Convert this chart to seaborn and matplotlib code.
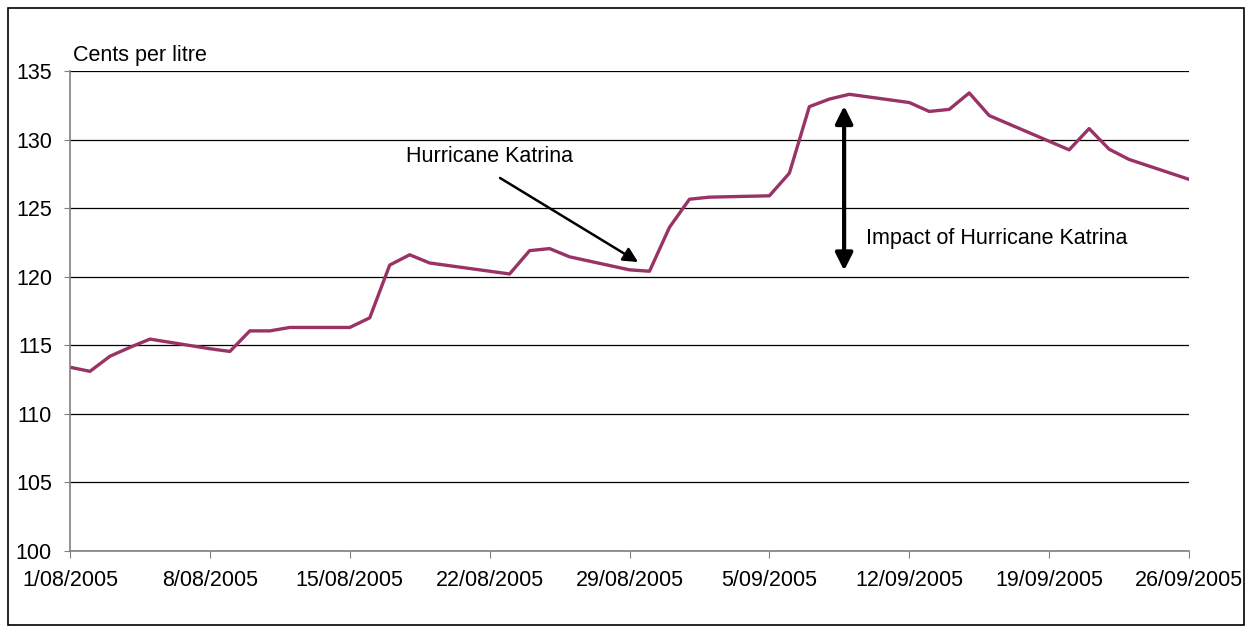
import pandas as pd
import matplotlib
matplotlib.use("Agg")
import matplotlib.pyplot as plt
import matplotlib.patches as mpatches
import seaborn as sns

# Datos: precio de la gasolina (cents per litre), dias habiles
fechas = ['2005-08-01', '2005-08-02', '2005-08-03', '2005-08-04', '2005-08-05',
          '2005-08-08', '2005-08-09', '2005-08-10', '2005-08-11', '2005-08-12',
          '2005-08-15', '2005-08-16', '2005-08-17', '2005-08-18', '2005-08-19',
          '2005-08-23', '2005-08-24', '2005-08-25', '2005-08-26',
          '2005-08-29', '2005-08-30', '2005-08-31', '2005-09-01', '2005-09-02',
          '2005-09-05', '2005-09-06', '2005-09-07', '2005-09-08', '2005-09-09',
          '2005-09-12', '2005-09-13', '2005-09-14', '2005-09-15', '2005-09-16',
          '2005-09-20', '2005-09-21', '2005-09-22', '2005-09-23',
          '2005-09-26']
precios = [113.4, 113.1, 114.2, 114.85, 115.45,
           114.75, 114.55, 116.05, 116.05, 116.3,
           116.3, 117.0, 120.85, 121.6, 121.0,
           120.2, 121.9, 122.05, 121.45,
           120.5, 120.4, 123.6, 125.65, 125.8,
           125.9, 127.55, 132.4, 132.95, 133.3,
           132.7, 132.05, 132.2, 133.4, 131.75,
           129.25, 130.8, 129.3, 128.55,
           127.1]

tick_fechas = ['2005-08-01', '2005-08-08', '2005-08-15', '2005-08-22', '2005-08-29',
               '2005-09-05', '2005-09-12', '2005-09-19', '2005-09-26']
tick_labels = ['1/08/2005', '8/08/2005', '15/08/2005', '22/08/2005', '29/08/2005',
               '5/09/2005', '12/09/2005', '19/09/2005', '26/09/2005']
y_ticks = [100, 105, 110, 115, 120, 125, 130, 135]

data = pd.DataFrame({'Fecha': pd.to_datetime(fechas), 'Precio': precios})

sns.set_style("white")
plt.rcParams['font.family'] = ['Liberation Sans', 'DejaVu Sans']
plt.rcParams['text.color'] = 'black'
plt.rcParams['xtick.labelcolor'] = 'black'
plt.rcParams['ytick.labelcolor'] = 'black'

fs = 15.5

fig = plt.figure(figsize=(12.52, 6.26), dpi=100)
ax = fig.add_axes([0.0559, 0.1198, 0.8938, 0.7668])

# Borde exterior del grafico
fig.patches.append(mpatches.Rectangle((8 / 1252, 1 / 626), 1236 / 1252, 617 / 626,
                                      transform=fig.transFigure, fill=False,
                                      edgecolor='black', linewidth=1.2))

sns.lineplot(data=data, x='Fecha', y='Precio', ax=ax, color='#993366', linewidth=2.4)

ax.set_xlim(pd.Timestamp('2005-08-01'), pd.Timestamp('2005-09-26'))
ax.set_ylim(100, 135)
ax.set_xticks(pd.to_datetime(tick_fechas))
ax.set_xticklabels(tick_labels, fontsize=fs)
ax.set_yticks(y_ticks)
ax.set_yticklabels([str(v) for v in y_ticks], fontsize=fs)
ax.set_xlabel('')
ax.set_ylabel('')

ax.yaxis.grid(True, color='black', linewidth=0.9)
ax.xaxis.grid(False)
for side in ['top', 'right']:
    ax.spines[side].set_visible(False)
ax.spines['left'].set_color('#808080')
ax.spines['bottom'].set_color('#808080')
ax.spines['left'].set_linewidth(1.2)
ax.spines['bottom'].set_linewidth(1.2)
ax.tick_params(axis='x', direction='out', length=5, color='#808080', pad=9, bottom=True)
ax.tick_params(axis='y', direction='out', length=4, color='#808080', pad=9, left=True)

ax.text(0.003, 1.032, 'Cents per litre', transform=ax.transAxes, fontsize=fs,
        ha='left', va='center')

d0 = pd.Timestamp('2005-08-01')
ax.annotate('', xy=(d0 + pd.Timedelta(days=28.43), 121.07),
            xytext=(d0 + pd.Timedelta(days=21.52), 127.2),
            arrowprops=dict(arrowstyle='-|>', color='black', lw=1.8,
                            mutation_scale=22, shrinkA=0, shrinkB=0))
ax.text(d0 + pd.Timedelta(days=16.8), 128.75, 'Hurricane Katrina', fontsize=fs,
        ha='left', va='center')

ax.annotate('', xy=(d0 + pd.Timedelta(days=38.74), 132.45),
            xytext=(d0 + pd.Timedelta(days=38.74), 120.45),
            arrowprops=dict(arrowstyle='<|-|>', color='black', lw=3.0,
                            mutation_scale=26, shrinkA=0, shrinkB=0))
ax.text(d0 + pd.Timedelta(days=39.85), 122.75, 'Impact of Hurricane Katrina',
        fontsize=fs, ha='left', va='center')

fig.savefig('out.png', dpi=100)
